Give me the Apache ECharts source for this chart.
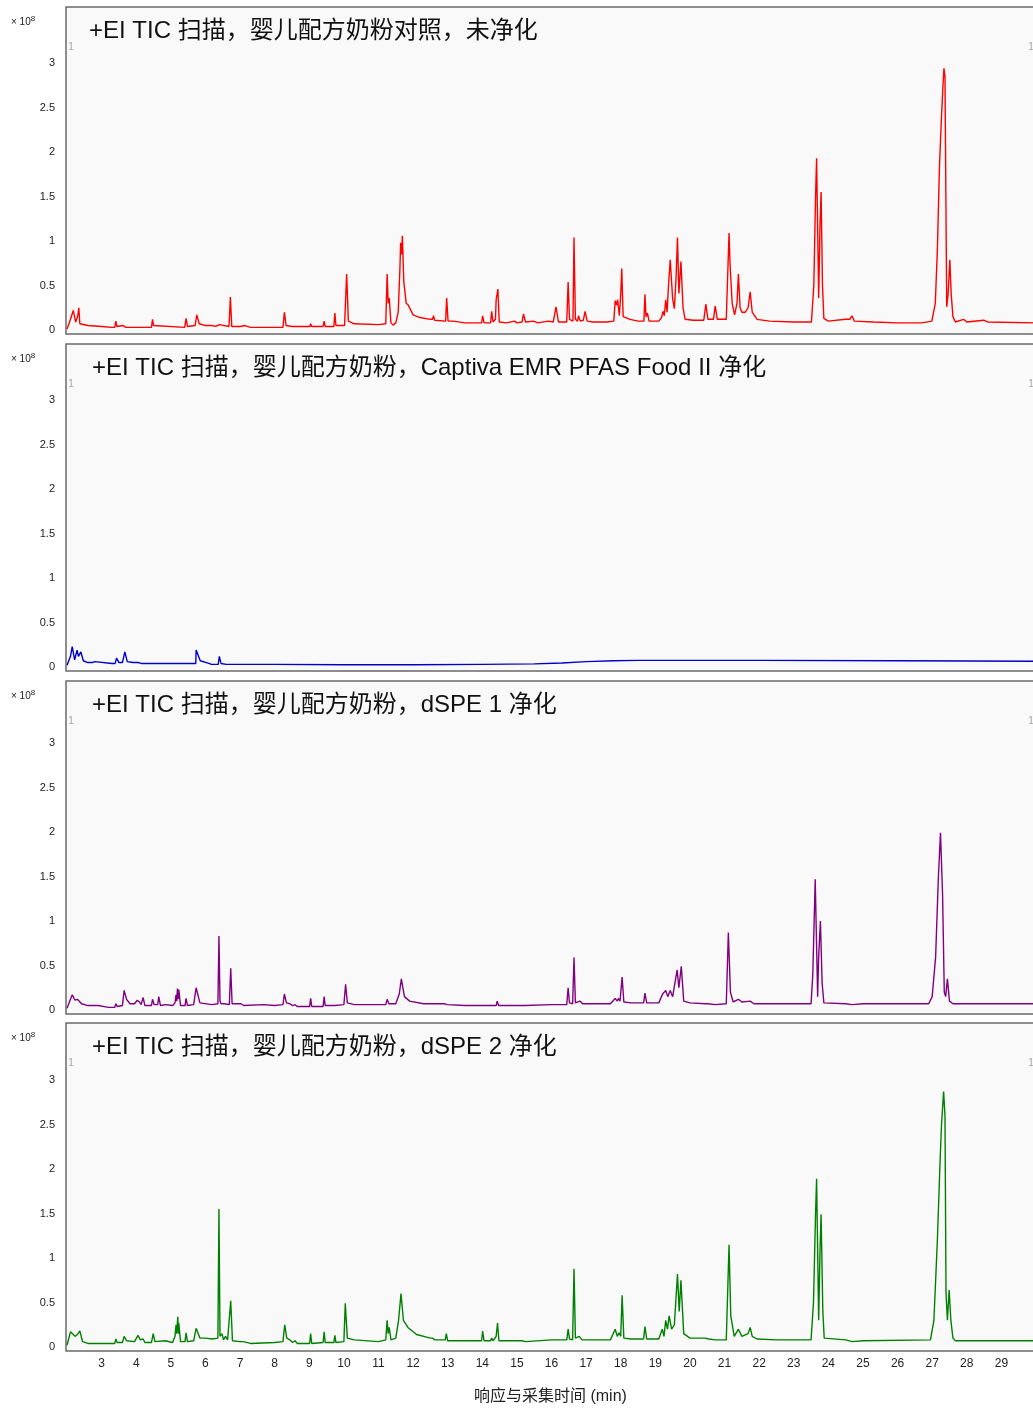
<!DOCTYPE html>
<html>
<head>
<meta charset="utf-8">
<title>TIC</title>
<script src="https://cdn.jsdelivr.net/npm/echarts@6/dist/echarts.min.js"></script>
<style>
  html, body { margin: 0; padding: 0; background: #fff; overflow: hidden; }
  #chart { width: 1040px; height: 1410px; }
</style>
</head>
<body>
<div id="chart"></div>
<script>
// 标题
const titles = [
  '+EI TIC 扫描，婴儿配方奶粉对照，未净化',
  '+EI TIC 扫描，婴儿配方奶粉，Captiva EMR PFAS Food II 净化',
  '+EI TIC 扫描，婴儿配方奶粉，dSPE 1 净化',
  '+EI TIC 扫描，婴儿配方奶粉，dSPE 2 净化',
]
const yTicks = [0, 0.5, 1, 1.5, 2, 2.5, 3]
const xTicks = [3, 4, 5, 6, 7, 8, 9, 10, 11, 12, 13, 14, 15, 16, 17, 18, 19, 20, 21, 22, 23, 24, 25, 26, 27, 28, 29]
const colors = ['#ff0000', '#0000c8', '#800080', '#008000']

// [时间 min, 响应 ×10^8]
const redTrace = [
  [2.00, 0.01], [2.10, 0.12], [2.18, 0.22], [2.25, 0.09], [2.31, 0.16], [2.34, 0.25], [2.37, 0.07], [2.6, 0.05], [3.0, 0.04], [3.3, 0.03],
  [3.38, 0.03], [3.41, 0.10], [3.44, 0.04], [3.62, 0.05], [3.7, 0.03], [4.08, 0.03], [4.11, 0.05], [4.15, 0.03], [4.44, 0.03], [4.47, 0.12], [4.50, 0.05], [4.55, 0.04],
  [5.40, 0.03], [5.44, 0.13], [5.48, 0.04], [5.70, 0.05], [5.75, 0.17], [5.82, 0.07], [6.0, 0.05], [6.18, 0.05], [6.3, 0.04], [6.40, 0.06], [6.68, 0.04], [6.72, 0.37], [6.76, 0.04],
  [7.0, 0.04], [7.14, 0.05], [7.3, 0.03], [8.24, 0.03], [8.28, 0.20], [8.33, 0.05], [8.5, 0.04], [9.02, 0.04], [9.04, 0.07], [9.07, 0.04], [9.40, 0.04], [9.43, 0.10], [9.46, 0.04],
  [9.71, 0.04], [9.74, 0.19], [9.77, 0.05], [10.02, 0.05], [10.08, 0.63], [10.13, 0.10], [10.3, 0.07], [11.0, 0.06], [11.21, 0.07], [11.25, 0.63], [11.28, 0.30], [11.31, 0.36],
  [11.36, 0.08], [11.42, 0.055], [11.5, 0.08], [11.57, 0.2], [11.62, 0.7], [11.64, 0.98], [11.67, 0.85], [11.69, 1.06], [11.73, 0.55], [11.80, 0.3], [11.86, 0.28], [12.0, 0.17],
  [12.2, 0.14], [12.5, 0.12], [12.56, 0.12], [12.59, 0.16], [12.62, 0.11], [12.94, 0.10], [12.97, 0.36], [13.01, 0.10], [13.16, 0.10], [13.5, 0.08], [13.98, 0.08], [14.01, 0.16],
  [14.05, 0.08], [14.24, 0.08], [14.27, 0.21], [14.31, 0.09], [14.38, 0.12], [14.40, 0.34], [14.45, 0.46], [14.49, 0.09], [14.7, 0.08], [14.93, 0.10], [15.0, 0.08], [15.15, 0.09],
  [15.19, 0.18], [15.25, 0.09], [15.48, 0.10], [15.6, 0.08], [15.91, 0.10], [16.05, 0.09], [16.13, 0.26], [16.2, 0.09], [16.44, 0.09], [16.48, 0.54], [16.52, 0.12], [16.62, 0.10],
  [16.65, 1.04], [16.69, 0.12], [16.75, 0.1], [16.78, 0.16], [16.83, 0.1], [16.92, 0.11], [16.97, 0.21], [17.03, 0.1], [17.2, 0.09], [17.6, 0.09], [17.8, 0.1], [17.84, 0.33],
  [17.88, 0.28], [17.91, 0.34], [17.96, 0.16], [18.00, 0.4], [18.03, 0.69], [18.07, 0.15], [18.27, 0.12], [18.5, 0.10], [18.67, 0.1], [18.70, 0.4], [18.73, 0.15], [18.77, 0.19],
  [18.82, 0.1], [19.1, 0.1], [19.18, 0.14], [19.22, 0.21], [19.26, 0.16], [19.30, 0.34], [19.34, 0.2], [19.38, 0.5], [19.43, 0.79], [19.5, 0.35], [19.55, 0.24], [19.6, 0.6],
  [19.64, 1.04], [19.68, 0.41], [19.74, 0.77], [19.8, 0.25], [19.86, 0.12], [20.1, 0.11], [20.4, 0.11], [20.46, 0.29], [20.52, 0.12], [20.68, 0.12], [20.73, 0.27], [20.79, 0.12],
  [21.05, 0.12], [21.13, 1.09], [21.16, 0.73], [21.22, 0.3], [21.29, 0.17], [21.36, 0.3], [21.40, 0.63], [21.45, 0.25], [21.5, 0.2], [21.6, 0.2], [21.68, 0.25], [21.74, 0.43],
  [21.8, 0.2], [21.94, 0.12], [22.3, 0.1], [23.0, 0.09], [23.51, 0.09], [23.58, 0.5], [23.63, 1.5], [23.66, 1.93], [23.72, 0.36], [23.76, 1.2], [23.79, 1.55], [23.83, 0.5],
  [23.87, 0.13], [24.0, 0.1], [24.5, 0.12], [24.62, 0.12], [24.68, 0.16], [24.75, 0.1], [25.3, 0.09], [26.0, 0.08], [26.7, 0.08], [26.99, 0.1], [27.09, 0.3], [27.15, 0.9],
  [27.21, 1.83], [27.26, 2.32], [27.31, 2.73], [27.34, 2.94], [27.37, 2.85], [27.39, 1.8], [27.42, 0.26], [27.46, 0.4], [27.51, 0.79], [27.55, 0.4], [27.60, 0.15], [27.67, 0.09],
  [27.91, 0.12], [28.0, 0.09], [28.49, 0.11], [28.6, 0.09], [30.0, 0.08],
]

const blueTrace = [
  [2.0, 0.02], [2.1, 0.12], [2.15, 0.23], [2.22, 0.08], [2.29, 0.19], [2.33, 0.12], [2.40, 0.17], [2.47, 0.07], [2.6, 0.05], [2.73, 0.05], [2.8, 0.06], [2.85, 0.04],
  [3.3, 0.04], [3.39, 0.04], [3.43, 0.10], [3.5, 0.05], [3.6, 0.05], [3.67, 0.17], [3.74, 0.06], [3.9, 0.05], [4.05, 0.05], [4.08, 0.06], [4.15, 0.04], [5.0, 0.04],
  [5.6, 0.04], [5.72, 0.04], [5.73, 0.19], [5.85, 0.07], [6.1, 0.04], [6.17, 0.03], [6.37, 0.03], [6.40, 0.12], [6.45, 0.04], [6.6, 0.03], [8, 0.03], [10, 0.025],
  [12, 0.025], [14, 0.03], [15.5, 0.035], [16.3, 0.045], [17, 0.06], [17.8, 0.07], [18.5, 0.075], [22, 0.075], [26, 0.07], [30, 0.065],
]

const purpleTrace = [
  [2.0, 0.02], [2.08, 0.1], [2.15, 0.17], [2.23, 0.11], [2.3, 0.12], [2.35, 0.14], [2.42, 0.07], [2.6, 0.05], [2.9, 0.05], [3.2, 0.03], [3.38, 0.03], [3.41, 0.07], [3.45, 0.04],
  [3.6, 0.05], [3.65, 0.22], [3.72, 0.12], [3.82, 0.07], [3.95, 0.07], [4.03, 0.11], [4.09, 0.09], [4.14, 0.06], [4.20, 0.14], [4.25, 0.05], [4.44, 0.05], [4.47, 0.12],
  [4.52, 0.06], [4.62, 0.06], [4.65, 0.15], [4.7, 0.05], [4.84, 0.06], [5.05, 0.05], [5.12, 0.08], [5.15, 0.17], [5.17, 0.1], [5.19, 0.24], [5.21, 0.12], [5.23, 0.23],
  [5.28, 0.05], [5.41, 0.05], [5.44, 0.13], [5.48, 0.05], [5.66, 0.06], [5.70, 0.17], [5.73, 0.25], [5.84, 0.08], [6.18, 0.06], [6.36, 0.07], [6.39, 0.83], [6.42, 0.1],
  [6.45, 0.07], [6.5, 0.09], [6.55, 0.07], [6.6, 0.08], [6.69, 0.06], [6.73, 0.47], [6.77, 0.07], [7.03, 0.07], [7.1, 0.05], [7.69, 0.06], [8.0, 0.05], [8.24, 0.06],
  [8.28, 0.18], [8.34, 0.08], [8.44, 0.07], [8.52, 0.05], [8.59, 0.06], [8.65, 0.04], [9.01, 0.04], [9.04, 0.13], [9.07, 0.04], [9.40, 0.04], [9.43, 0.15], [9.46, 0.05],
  [9.74, 0.05], [10.0, 0.06], [10.05, 0.29], [10.1, 0.08], [10.3, 0.06], [11.0, 0.06], [11.21, 0.06], [11.25, 0.12], [11.3, 0.07], [11.5, 0.07], [11.6, 0.18], [11.66, 0.35],
  [11.75, 0.15], [11.9, 0.1], [12.3, 0.07], [12.92, 0.07], [12.95, 0.09], [12.98, 0.06], [13.5, 0.05], [13.99, 0.05], [14.02, 0.07], [14.05, 0.05], [14.40, 0.05],
  [14.43, 0.10], [14.47, 0.05], [15.18, 0.05], [15.21, 0.06], [15.24, 0.05], [16.0, 0.06], [16.44, 0.06], [16.48, 0.25], [16.52, 0.08], [16.61, 0.07], [16.65, 0.59],
  [16.69, 0.08], [16.82, 0.1], [16.9, 0.07], [17.7, 0.07], [17.84, 0.13], [17.9, 0.1], [17.93, 0.13], [17.98, 0.1], [18.04, 0.37], [18.09, 0.09], [18.3, 0.08], [18.66, 0.08],
  [18.70, 0.19], [18.75, 0.08], [19.1, 0.08], [19.21, 0.18], [19.3, 0.22], [19.36, 0.15], [19.43, 0.22], [19.5, 0.15], [19.63, 0.45], [19.68, 0.25], [19.75, 0.49], [19.82, 0.1],
  [20.0, 0.08], [20.44, 0.07], [20.48, 0.08], [20.52, 0.07], [20.73, 0.06], [21.05, 0.07], [21.11, 0.87], [21.17, 0.2], [21.25, 0.09], [21.40, 0.12], [21.5, 0.09],
  [21.74, 0.1], [21.85, 0.07], [22.5, 0.07], [23.5, 0.07], [23.55, 0.4], [23.62, 1.47], [23.69, 0.15], [23.72, 0.6], [23.77, 1.0], [23.82, 0.3], [23.87, 0.08],
  [24.5, 0.07], [24.69, 0.06], [25, 0.07], [26.9, 0.07], [27.0, 0.15], [27.1, 0.6], [27.18, 1.5], [27.24, 1.99], [27.3, 1.3], [27.35, 0.2], [27.39, 0.15], [27.44, 0.35],
  [27.5, 0.1], [27.6, 0.07], [30.0, 0.07],
]

const greenTrace = [
  [2.0, 0.02], [2.1, 0.17], [2.23, 0.12], [2.3, 0.14], [2.37, 0.18], [2.45, 0.06], [2.6, 0.04], [2.95, 0.04], [3.0, 0.05], [3.05, 0.04], [3.38, 0.04], [3.41, 0.09],
  [3.45, 0.05], [3.6, 0.05], [3.65, 0.12], [3.72, 0.07], [3.95, 0.06], [4.05, 0.13], [4.12, 0.08], [4.20, 0.09], [4.25, 0.05], [4.44, 0.05], [4.49, 0.15], [4.54, 0.06],
  [4.84, 0.07], [5.05, 0.05], [5.12, 0.12], [5.15, 0.25], [5.17, 0.15], [5.20, 0.34], [5.22, 0.15], [5.23, 0.27], [5.28, 0.06], [5.41, 0.06], [5.44, 0.16], [5.48, 0.06],
  [5.66, 0.07], [5.73, 0.21], [5.84, 0.1], [6.0, 0.1], [6.2, 0.09], [6.36, 0.1], [6.39, 1.55], [6.42, 0.12], [6.45, 0.1], [6.48, 0.15], [6.52, 0.08], [6.58, 0.12],
  [6.64, 0.08], [6.69, 0.08], [6.73, 0.52], [6.78, 0.07], [7.0, 0.06], [7.09, 0.06], [7.3, 0.04], [8.0, 0.05], [8.24, 0.06], [8.29, 0.25], [8.35, 0.1], [8.44, 0.08],
  [8.52, 0.05], [8.59, 0.07], [8.65, 0.04], [9.01, 0.04], [9.04, 0.15], [9.07, 0.04], [9.40, 0.05], [9.43, 0.17], [9.46, 0.05], [9.71, 0.05], [9.74, 0.13], [9.77, 0.05],
  [10.0, 0.06], [10.04, 0.49], [10.1, 0.1], [10.3, 0.08], [11.0, 0.06], [11.21, 0.08], [11.25, 0.3], [11.28, 0.15], [11.31, 0.22], [11.36, 0.08], [11.5, 0.1],
  [11.58, 0.3], [11.65, 0.6], [11.72, 0.3], [11.85, 0.22], [12.1, 0.14], [12.5, 0.1], [12.56, 0.1], [12.59, 0.12], [12.63, 0.08], [12.93, 0.08], [12.96, 0.15],
  [13.0, 0.07], [13.5, 0.07], [13.98, 0.07], [14.01, 0.18], [14.05, 0.07], [14.24, 0.07], [14.27, 0.1], [14.31, 0.07], [14.40, 0.12], [14.44, 0.27], [14.48, 0.07],
  [15.15, 0.07], [15.2, 0.08], [15.25, 0.06], [16.0, 0.08], [16.44, 0.08], [16.48, 0.2], [16.52, 0.09], [16.61, 0.08], [16.65, 0.88], [16.69, 0.1], [16.8, 0.12],
  [16.88, 0.08], [17.7, 0.08], [17.84, 0.2], [17.9, 0.12], [17.95, 0.16], [18.0, 0.12], [18.04, 0.58], [18.09, 0.1], [18.3, 0.09], [18.66, 0.09], [18.70, 0.23],
  [18.75, 0.09], [19.1, 0.09], [19.2, 0.2], [19.25, 0.12], [19.3, 0.3], [19.35, 0.2], [19.4, 0.35], [19.47, 0.2], [19.55, 0.25], [19.64, 0.82], [19.69, 0.4],
  [19.74, 0.75], [19.82, 0.15], [20.0, 0.1], [20.44, 0.1], [20.48, 0.12], [20.55, 0.09], [20.73, 0.08], [21.05, 0.08], [21.13, 1.15], [21.18, 0.35], [21.28, 0.12],
  [21.40, 0.2], [21.5, 0.12], [21.68, 0.15], [21.74, 0.22], [21.8, 0.12], [21.94, 0.09], [22.5, 0.08], [23.5, 0.08], [23.57, 0.5], [23.63, 1.5], [23.66, 1.89],
  [23.72, 0.3], [23.76, 1.1], [23.79, 1.49], [23.84, 0.4], [23.88, 0.1], [24.5, 0.08], [24.69, 0.06], [25, 0.07], [26.95, 0.08], [27.05, 0.3], [27.15, 1.2],
  [27.22, 2.0], [27.27, 2.5], [27.33, 2.87], [27.37, 2.6], [27.40, 0.6], [27.44, 0.3], [27.49, 0.64], [27.54, 0.3], [27.6, 0.1], [27.67, 0.07], [30.0, 0.07],
]

const traces = [redTrace, blueTrace, purpleTrace, greenTrace]

// 各面板布局（像素）
const panels = [
  { top: 7, bottom: 334, zero: 330 },
  { top: 344, bottom: 671, zero: 667 },
  { top: 681, bottom: 1014, zero: 1010 },
  { top: 1023, bottom: 1351, zero: 1347 },
]
const pxPerUnit = 89
const latin = '"Liberation Sans", Arial, sans-serif'
const mixed = '"Liberation Sans", "Noto Sans CJK SC", Arial, sans-serif'

const grids = panels.map(p => ({
  left: 66,
  width: 970, // 右边框在画面外
  top: p.top,
  height: p.bottom - p.top,
  show: true,
  backgroundColor: '#f9f9f9',
  borderColor: '#6a6a6a',
  borderWidth: 1.5,
}))

const xAxes = panels.map((p, i) => ({
  type: 'value',
  gridIndex: i,
  min: 1.97,
  max: 30,
  axisLine: { show: false },
  axisTick: { show: false },
  splitLine: { show: false },
  axisLabel: {
    show: i === 3,
    customValues: xTicks,
    margin: 7,
    fontSize: 12,
    color: '#222',
    fontFamily: latin,
  },
}))

const yAxes = panels.map((p, i) => ({
  type: 'value',
  gridIndex: i,
  min: -(p.bottom - p.zero) / pxPerUnit,
  max: (p.zero - p.top) / pxPerUnit,
  axisLine: { show: false },
  axisTick: { show: false },
  splitLine: { show: false },
  axisLabel: {
    customValues: yTicks,
    margin: 11,
    fontSize: 11,
    color: '#222',
    fontFamily: latin,
    formatter: v => String(v),
  },
}))

const series = traces.map((d, i) => ({
  type: 'line',
  xAxisIndex: i,
  yAxisIndex: i,
  data: d,
  showSymbol: false,
  silent: true,
  animation: false,
  lineStyle: { color: colors[i], width: 1.4 },
}))

const graphic = []
panels.forEach((p, i) => {
  graphic.push({
    type: 'text',
    left: i === 0 ? 89 : 92,
    top: p.top + 12,
    style: { text: titles[i], font: `24px ${mixed}`, fill: '#111' },
  })
  graphic.push({
    type: 'text',
    left: 11,
    top: p.top + 8,
    style: {
      text: '{a|× 10}{b|8}',
      rich: {
        a: { fontSize: 10, fill: '#222', fontFamily: latin },
        b: { fontSize: 8, fill: '#222', fontFamily: latin, verticalAlign: 'top', padding: [0, 0, 6, 0] },
      },
    },
  })
  graphic.push({
    type: 'text',
    left: 68,
    top: p.top + 34,
    style: { text: '1', font: `11px ${latin}`, fill: '#aaa' },
  })
  graphic.push({
    type: 'text',
    left: 1028,
    top: p.top + 34,
    style: { text: '1', font: `11px ${latin}`, fill: '#aaa' },
  })
})
graphic.push({
  type: 'text',
  left: 474,
  top: 1389,
  style: { text: '响应与采集时间 (min)', font: `16px ${mixed}`, fill: '#222' },
})

const option = {
  animation: false,
  backgroundColor: '#fff',
  grid: grids,
  xAxis: xAxes,
  yAxis: yAxes,
  series,
  graphic,
}

const chartInstance = echarts.init(document.getElementById('chart'), null, { renderer: 'canvas' })
chartInstance.setOption(option)
</script>
</body>
</html>
